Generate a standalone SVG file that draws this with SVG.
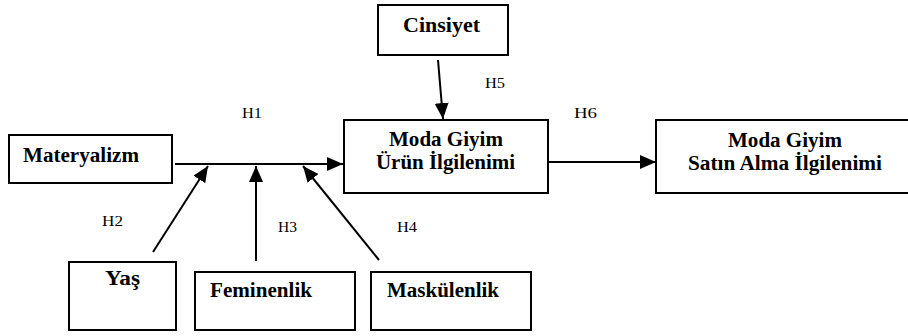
<svg xmlns="http://www.w3.org/2000/svg" width="908" height="336" viewBox="0 0 908 336">
<style>
.box{fill:#fff;stroke:#000;stroke-width:2}
.lbl{font-family:"Liberation Serif","Times New Roman",serif;font-weight:bold;font-size:20px;fill:#000}
.h{font-family:"Liberation Serif","Times New Roman",serif;font-size:14.5px;fill:#000}
.conn{stroke:#000;stroke-width:2;fill:none;marker-end:url(#arr)}
</style>
<defs>
<marker id="arr" markerUnits="userSpaceOnUse" markerWidth="18" markerHeight="16" refX="16" refY="7" orient="auto">
<path d="M0,0 L16,7 L0,14 Z" fill="#000"/>
</marker>
</defs>
<rect width="908" height="336" fill="#fff"/>
<g id="connectors">
<line class="conn" x1="175" y1="164" x2="343" y2="164"/>
<line class="conn" x1="153" y1="252" x2="208" y2="166"/>
<line class="conn" x1="256" y1="261" x2="256" y2="166"/>
<line class="conn" x1="379" y1="260" x2="303" y2="166"/>
<line class="conn" x1="438" y1="60" x2="443" y2="119"/>
<line class="conn" x1="549" y1="162" x2="656" y2="162"/>
</g>
<g id="materyalizm">
<rect class="box" x="9" y="135" width="163" height="48"/>
<text class="lbl" x="23" y="162" textLength="116" lengthAdjust="spacingAndGlyphs">Materyalizm</text>
</g>
<g id="cinsiyet">
<rect class="box" x="378" y="5" width="130" height="50"/>
<text class="lbl" x="403" y="32" textLength="77" lengthAdjust="spacingAndGlyphs">Cinsiyet</text>
</g>
<g id="urun">
<rect class="box" x="344" y="120" width="204" height="73"/>
<text class="lbl" x="389" y="146" textLength="114" lengthAdjust="spacingAndGlyphs">Moda Giyim</text>
<text class="lbl" x="376" y="169" textLength="139" lengthAdjust="spacingAndGlyphs">Ürün İlgilenimi</text>
</g>
<g id="satinalma">
<rect class="box" x="656" y="120" width="260" height="73"/>
<text class="lbl" x="728" y="147" textLength="114" lengthAdjust="spacingAndGlyphs">Moda Giyim</text>
<text class="lbl" x="688" y="170" textLength="194" lengthAdjust="spacingAndGlyphs">Satın Alma İlgilenimi</text>
</g>
<g id="yas">
<rect class="box" x="69" y="262" width="107" height="68"/>
<text class="lbl" x="105" y="285" textLength="35" lengthAdjust="spacingAndGlyphs">Yaş</text>
</g>
<g id="feminenlik">
<rect class="box" x="195" y="272" width="160" height="58"/>
<text class="lbl" x="210" y="297" textLength="102" lengthAdjust="spacingAndGlyphs">Feminenlik</text>
</g>
<g id="maskulenlik">
<rect class="box" x="371" y="272" width="160" height="58"/>
<text class="lbl" x="387" y="297" textLength="112" lengthAdjust="spacingAndGlyphs">Maskülenlik</text>
</g>
<g id="labels">
<text class="h" x="242" y="118" textLength="20" lengthAdjust="spacingAndGlyphs">H1</text>
<text class="h" x="102" y="226" textLength="21" lengthAdjust="spacingAndGlyphs">H2</text>
<text class="h" x="278" y="232" textLength="19" lengthAdjust="spacingAndGlyphs">H3</text>
<text class="h" x="397" y="232" textLength="20" lengthAdjust="spacingAndGlyphs">H4</text>
<text class="h" x="485" y="88" textLength="20" lengthAdjust="spacingAndGlyphs">H5</text>
<text class="h" x="574" y="118" textLength="23" lengthAdjust="spacingAndGlyphs">H6</text>
</g>
</svg>
